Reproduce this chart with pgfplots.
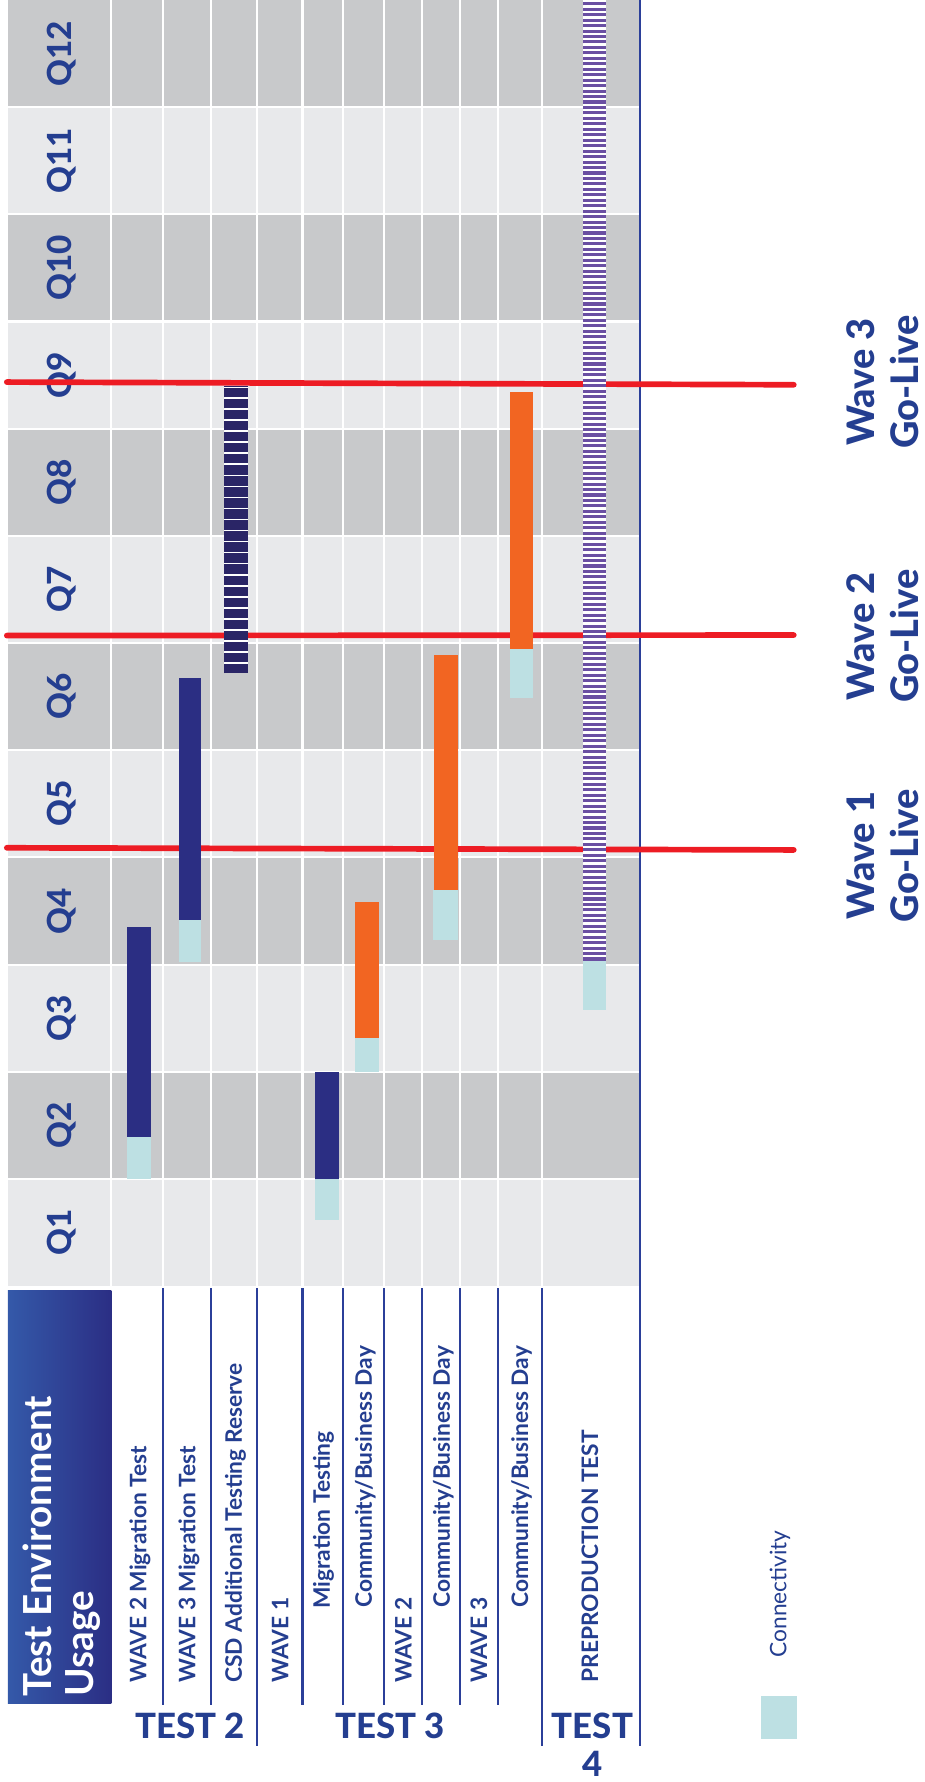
\documentclass[border=0pt]{standalone}
\usepackage{pgfplots}
\pgfplotsset{compat=1.18}
\usepackage{fontspec}
\setmainfont{Lato}
\IfFontExistsTF{Lato Heavy}{\newfontfamily\heavy{Lato Heavy}}{%
  \IfFontExistsTF{Lato Black}{\newfontfamily\heavy{Lato Black}}{\newcommand\heavy{\bfseries}}}
\definecolor{navytext}{HTML}{243E90}
\definecolor{barblue}{HTML}{2B2E83}
\definecolor{csdnavy}{HTML}{2A2566}
\definecolor{orng}{HTML}{F26522}
\definecolor{conn}{HTML}{BDE0E3}
\definecolor{purp}{HTML}{6A4FA2}
\definecolor{redl}{HTML}{ED1C24}
\definecolor{gdark}{HTML}{C8C9CB}
\definecolor{glight}{HTML}{E8E9EB}
\definecolor{hdrL}{HTML}{3459A9}
\definecolor{hdrR}{HTML}{2B2E84}
\definecolor{linenavy}{HTML}{2B3F99}
\newcommand\lab[1]{\fontsize{10}{12}\selectfont\bfseries #1}
\begin{document}
\begin{tikzpicture}
\useasboundingbox (0,0) rectangle (406.5pt,783.5pt);
\begin{axis}[
  at={(0,0)}, anchor=south west,
  scale only axis, width=406.5pt, height=783.5pt,
  xmin=0, xmax=813, ymin=-4.626, ymax=12,
  axis lines=none, ticks=none, clip=false,
]
% ---- background cells
\fill[glight] (axis cs:7,0) rectangle (axis cs:563,12);
\fill[gdark] (axis cs:7,1) rectangle (axis cs:563,2);
\fill[gdark] (axis cs:7,3) rectangle (axis cs:563,4);
\fill[gdark] (axis cs:7,5) rectangle (axis cs:563,6);
\fill[gdark] (axis cs:7,7) rectangle (axis cs:563,8);
\fill[gdark] (axis cs:7,9) rectangle (axis cs:563,10);
\fill[gdark] (axis cs:7,11) rectangle (axis cs:563,12);
% white grid lines
\pgfplotsinvokeforeach{1,2,3,4,5,6,7,8,9,10,11}{
  \draw[white, line width=0.9pt] (axis cs:7,#1) -- (axis cs:563,#1);
}
\pgfplotsinvokeforeach{98,143.4,185.6,226,266,301.5,338,371.4,404.9,437.7,476.6}{
  \draw[white, line width=0.9pt] (axis cs:#1,0) -- (axis cs:#1,12);
}
% navy header lines
\pgfplotsinvokeforeach{143.4,185.6,266,301.5,338,371.4,404.9,437.7}{
  \draw[linenavy, line width=0.9pt] (axis cs:#1,-0.02) -- (axis cs:#1,-3.905);
}
\pgfplotsinvokeforeach{226,476.6}{
  \draw[linenavy, line width=0.9pt] (axis cs:#1,-0.02) -- (axis cs:#1,-4.287);
}
\draw[linenavy, line width=0.9pt] (axis cs:563,12) -- (axis cs:563,-4.287);
% ---- title box
\shade[left color=hdrL, right color=hdrR] (axis cs:7,-0.04) rectangle (axis cs:98,-3.889);
\node[rotate=90, anchor=base west, text=white, inner sep=0pt, font=\fontsize{17}{20}\selectfont\bfseries] at (axis cs:45.4,-3.83) {Test Environment};
\node[rotate=90, anchor=base west, text=white, inner sep=0pt, font=\fontsize{17}{20}\selectfont\bfseries] at (axis cs:82.3,-3.83) {Usage};
% ---- quarter labels
\pgfplotsinvokeforeach{1,2,3,4,5,6,7,8,9,10,11,12}{
  \node[rotate=90, anchor=base, text=navytext, inner sep=0pt, font=\fontsize{14.6}{16}\selectfont\heavy] at (axis cs:63.3,#1-0.5) {Q#1};
}
% ---- row labels
\begin{scope}[every node/.style={rotate=90, anchor=base west, inner sep=0pt, text=navytext}]
\node at (axis cs:128.7,-3.703) {\lab{WAVE 2 Migration Test}};
\node at (axis cs:171.8,-3.703) {\lab{WAVE 3 Migration Test}};
\node at (axis cs:212.6,-3.703) {\lab{CSD Additional Testing Reserve}};
\node at (axis cs:253.5,-3.703) {\lab{WAVE 1}};
\node at (axis cs:290.0,-3.013) {\lab{Migration Testing}};
\node at (axis cs:327.0,-3.003) {\lab{Community/Business Day}};
\node at (axis cs:362.0,-3.703) {\lab{WAVE 2}};
\node at (axis cs:395.5,-3.003) {\lab{Community/Business Day}};
\node at (axis cs:428.3,-3.703) {\lab{WAVE 3}};
\node at (axis cs:464.5,-3.003) {\lab{Community/Business Day}};
\node at (axis cs:526.0,-3.703) {\lab{PREPRODUCTION TEST}};
\end{scope}
% ---- group labels
\begin{scope}[every node/.style={anchor=base, inner sep=0pt, text=navytext, font=\fontsize{15.3}{18}\selectfont\heavy}]
\node at (axis cs:167,-4.223) {TEST 2};
\node at (axis cs:343,-4.223) {TEST 3};
\node at (axis cs:521,-4.223) {TEST};
\node at (axis cs:521,-4.575) {4};
\end{scope}
% ---- legend
\fill[conn] (axis cs:669,-3.82) rectangle (axis cs:701,-4.223);
\node[rotate=90, anchor=base west, inner sep=0pt, text=navytext, font=\fontsize{10}{12}\selectfont] at (axis cs:691.5,-3.469) {Connectivity};
% ---- go-live lines (under the bars)
\addplot[draw=redl, line width=2.5pt, line cap=round] coordinates {(6,8.435) (698,8.41)};
\addplot[draw=redl, line width=2.5pt, line cap=round] coordinates {(6,6.07) (698,6.075)};
\addplot[draw=redl, line width=2.5pt, line cap=round] coordinates {(6,4.09) (698,4.07)};
\begin{scope}[every node/.style={rotate=90, anchor=base, inner sep=0pt, text=navytext, font=\fontsize{16.7}{20}\selectfont\heavy}]
\node at (axis cs:769,8.435) {Wave 3};
\node at (axis cs:808,8.435) {Go-Live};
\node at (axis cs:769,6.064) {Wave 2};
\node at (axis cs:808,6.064) {Go-Live};
\node at (axis cs:769,4.016) {Wave 1};
\node at (axis cs:808,4.016) {Go-Live};
\end{scope}
% ---- bars: connectivity
\addplot[fill=conn, draw=none] coordinates {(111.4,1.0) (132.5,1.0) (132.5,1.394) (111.4,1.394)};
\addplot[fill=conn, draw=none] coordinates {(157.1,3.023) (177.1,3.023) (177.1,3.42) (157.1,3.42)};
\addplot[fill=conn, draw=none] coordinates {(276.9,0.621) (298.0,0.621) (298.0,1.0) (276.9,1.0)};
\addplot[fill=conn, draw=none] coordinates {(312.0,2.0) (333.0,2.0) (333.0,2.312) (312.0,2.312)};
\addplot[fill=conn, draw=none] coordinates {(381.0,3.234) (402.5,3.234) (402.5,3.699) (381.0,3.699)};
\addplot[fill=conn, draw=none] coordinates {(448.5,5.487) (469.0,5.487) (469.0,5.943) (448.5,5.943)};
\addplot[fill=conn, draw=none] coordinates {(512.3,2.576) (532.5,2.576) (532.5,3.038) (512.3,3.038)};
% ---- bars: migration tests (blue)
\addplot[fill=barblue, draw=none] coordinates {(111.4,1.394) (132.5,1.394) (132.5,3.35) (111.4,3.35)};
\addplot[fill=barblue, draw=none] coordinates {(157.1,3.42) (177.1,3.42) (177.1,5.67) (157.1,5.67)};
\addplot[fill=barblue, draw=none] coordinates {(276.9,1.0) (298.0,1.0) (298.0,2.0) (276.9,2.0)};
% ---- bars: community/business days (orange)
\addplot[fill=orng, draw=none] coordinates {(312.0,2.312) (333.0,2.312) (333.0,3.587) (312.0,3.587)};
\addplot[fill=orng, draw=none] coordinates {(381.4,3.699) (402.5,3.699) (402.5,5.893) (381.4,5.893)};
\addplot[fill=orng, draw=none] coordinates {(448.8,5.943) (469.0,5.943) (469.0,8.341) (448.8,8.341)};
% ---- striped bars
\addplot[fill=white, draw=none] coordinates {(196.7,5.72) (217.8,5.72) (217.8,8.403) (196.7,8.403)};
\addplot[draw=csdnavy, line width=10.55pt, dash pattern=on 4.1pt off 0.75pt] coordinates {(207.25,5.72) (207.25,8.403)};
\addplot[fill=white, draw=none] coordinates {(512.3,3.038) (532.5,3.038) (532.5,12) (512.3,12)};
\addplot[draw=purp, line width=10.1pt, dash pattern=on 1.35pt off 1.05pt] coordinates {(522.4,3.038) (522.4,12)};
\end{axis}
\end{tikzpicture}
\end{document}
